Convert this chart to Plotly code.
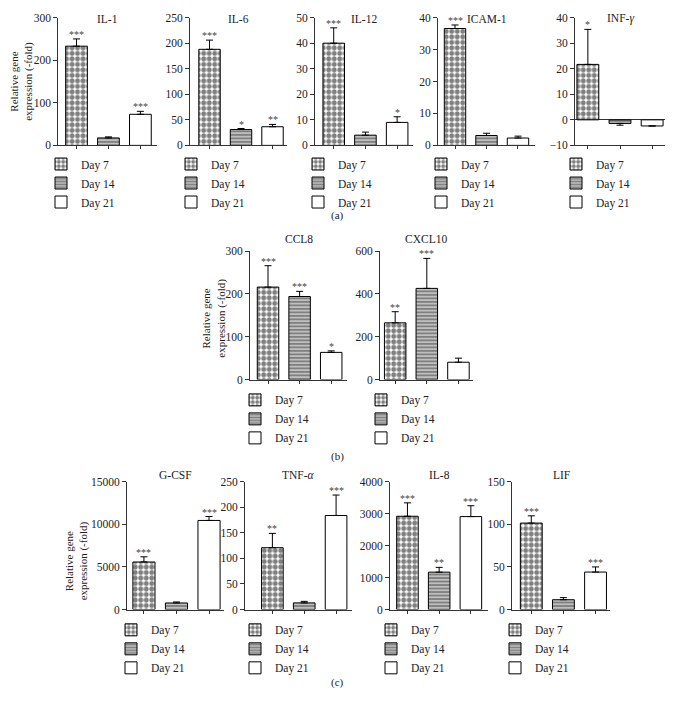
import plotly.graph_objects as go

# page body adds an 8px margin: lay out in reference pixels, then shift
OFF = 8
W, H = 675 - OFF, 702 - OFF
FONT = "Liberation Serif"
INK = "#222222"


def px(xp):
    return (xp - OFF) / W


def py(yp):
    return 1 - (yp - OFF) / H


days = ["Day 7", "Day 14", "Day 21"]

titles = ["IL-1", "IL-6", "IL-12", "ICAM-1", "INF-<i>γ</i>",
          "CCL8", "CXCL10",
          "G-CSF", "TNF-<i>α</i>", "IL-8", "LIF"]

il1_mean = [233, 17.5, 73]
il1_err = [17, 2.5, 7]
il1_sig = ["***", "", "***"]

il6_mean = [188, 31, 36.5]
il6_err = [18, 2, 4.5]
il6_sig = ["***", "*", "**"]

il12_mean = [40, 4, 9]
il12_err = [6, 1.2, 2.2]
il12_sig = ["***", "", "*"]

icam1_mean = [36.6, 3.1, 2.3]
icam1_err = [1.1, 0.7, 0.6]
icam1_sig = ["***", "", ""]

infg_mean = [21.7, -1.4, -2.4]
infg_err = [13.7, 0.7, 0.0]
infg_sig = ["*", "", ""]

ccl8_mean = [216, 194, 63.5]
ccl8_err = [50, 12, 3.5]
ccl8_sig = ["***", "***", "*"]

cxcl10_mean = [265, 426, 81]
cxcl10_err = [52, 140, 19]
cxcl10_sig = ["**", "***", ""]

gcsf_mean = [5580, 770, 10460]
gcsf_err = [610, 115, 460]
gcsf_sig = ["***", "", "***"]

tnfa_mean = [121, 13, 184]
tnfa_err = [28, 3, 40]
tnfa_sig = ["**", "", "***"]

il8_mean = [2920, 1170, 2910]
il8_err = [420, 150, 340]
il8_sig = ["***", "**", "***"]

lif_mean = [101.5, 11.5, 44]
lif_err = [8.5, 2.5, 6]
lif_sig = ["***", "", "***"]

yranges = [[0, 300], [0, 250], [0, 50], [0, 40], [-10, 40],
           [0, 300], [0, 600],
           [0, 15000], [0, 250], [0, 4000], [0, 150]]
dticks = [100, 50, 10, 10, 10, 100, 200, 5000, 50, 1000, 50]

means = [il1_mean, il6_mean, il12_mean, icam1_mean, infg_mean,
         ccl8_mean, cxcl10_mean, gcsf_mean, tnfa_mean, il8_mean, lif_mean]
errs = [il1_err, il6_err, il12_err, icam1_err, infg_err,
        ccl8_err, cxcl10_err, gcsf_err, tnfa_err, il8_err, lif_err]
sigs = [il1_sig, il6_sig, il12_sig, icam1_sig, infg_sig,
        ccl8_sig, cxcl10_sig, gcsf_sig, tnfa_sig, il8_sig, lif_sig]

# ---- layout geometry (reference pixels) ----
# (axis top, axis bottom, title y, legend middle y)
ROW_A = (11.7, 141.7, 13, 180)
ROW_B = (249.3, 380.0, 237, 420)
ROW_C = (484.0, 614.0, 477, 654)
geom = [
    # x0, x1, row, xrange, legend marker left
    (58.3, 157, ROW_A, [-0.57, 2.52], 63),
    (190, 287, ROW_A, [-0.62, 2.46], 193),
    (315, 413, ROW_A, [-0.59, 2.5], 320),
    (438, 535, ROW_A, [-0.54, 2.54], 443),
    (575, 665, ROW_A, [-0.4, 2.4], 578),
    (250, 347, ROW_B, [-0.57, 2.5], 257),
    (380, 473, ROW_B, [-0.48, 2.46], 383),
    (127, 224, ROW_C, [-0.52, 2.46], 133),
    (245, 352, ROW_C, [-0.86, 2.5], 257),
    (390, 488, ROW_C, [-0.55, 2.54], 393),
    (512, 610, ROW_C, [-0.6, 2.45], 517),
]

styles = [
    dict(color="white", pattern=dict(shape=".", size=5.5, solidity=0.62,
                                     fgcolor="black", bgcolor="white")),
    dict(color="white", pattern=dict(shape="-", size=3.5, solidity=0.75,
                                     fgcolor="black", bgcolor="white")),
    dict(color="white"),
]

fig = go.Figure()
layout = dict(width=W, height=H, margin=dict(l=0, r=0, t=0, b=0),
              paper_bgcolor="white", plot_bgcolor="white",
              barmode="overlay", font=dict(family=FONT, size=11, color=INK),
              showlegend=True)
annotations = []

for i in range(len(titles)):
    n = "" if i == 0 else str(i + 1)
    x0, x1, (ytop, ybot, ytitle, legy), xr, legx = geom[i]
    xa, ya = "x" + n, "y" + n
    lg = "legend" + n
    for d in range(3):
        v, e = means[i][d], errs[i][d]
        st = styles[d]
        fig.add_trace(go.Bar(
            x=[d], y=[v], width=0.68, name=days[d],
            xaxis=xa, yaxis=ya, legend=lg,
            marker=dict(color=st["color"], pattern=st.get("pattern", {}),
                        line=dict(color="black", width=1)),
            error_y=dict(type="data", symmetric=False,
                         array=[e if v >= 0 else 0],
                         arrayminus=[e if v < 0 else 0],
                         color="black", thickness=1, width=3.5),
            hoverinfo="skip",
        ))
        if sigs[i][d]:
            annotations.append(dict(
                x=d, y=v + e, xref=xa, yref=ya, text=sigs[i][d],
                showarrow=False, yanchor="bottom", yshift=-3,
                font=dict(family=FONT, size=10, color="#444")))
    layout["xaxis" + n] = dict(
        domain=[px(x0), px(x1)], range=xr, anchor=ya,
        showline=True, linecolor="#333", linewidth=1,
        ticks="outside", ticklen=3, tickcolor="#333",
        tickvals=[0, 1, 2], showticklabels=False,
        showgrid=False, zeroline=False, fixedrange=True)
    layout["yaxis" + n] = dict(
        domain=[py(ybot), py(ytop)], range=yranges[i], anchor=xa,
        dtick=dticks[i], tick0=0, tickformat="d",
        showline=True, linecolor="#333", linewidth=1,
        ticks="outside", ticklen=4, tickcolor="#333",
        tickfont=dict(family=FONT, size=11.5, color=INK),
        showgrid=False,
        zeroline=(yranges[i][0] < 0), zerolinecolor="#333", zerolinewidth=1,
        fixedrange=True)
    layout[lg] = dict(
        x=px(legx - 22), xanchor="left", y=py(legy), yanchor="middle",
        bgcolor="rgba(0,0,0,0)", borderwidth=0, tracegroupgap=0,
        font=dict(family=FONT, size=11.5, color=INK))
    annotations.append(dict(
        x=px((x0 + x1) / 2), y=py(ytitle), xref="paper", yref="paper",
        text=titles[i], showarrow=False, xanchor="center", yanchor="middle",
        font=dict(family=FONT, size=11.5, color=INK)))

ylabel = "Relative gene<br>expression (-fold)"
for (lx, ly) in [(22, 77), (214, 318), (76, 565)]:
    annotations.append(dict(
        x=px(lx), y=py(ly), xref="paper", yref="paper", text=ylabel,
        textangle=-90, showarrow=False, xanchor="center", yanchor="middle",
        font=dict(family=FONT, size=11, color=INK)))

for (lab, ly) in [("(a)", 213), ("(b)", 458), ("(c)", 688)]:
    annotations.append(dict(
        x=px(337), y=py(ly), xref="paper", yref="paper", text=lab,
        showarrow=False, xanchor="center", yanchor="middle",
        font=dict(family=FONT, size=11, color=INK)))

layout["annotations"] = annotations
fig.update_layout(**layout)
fig.write_html("out.html")
